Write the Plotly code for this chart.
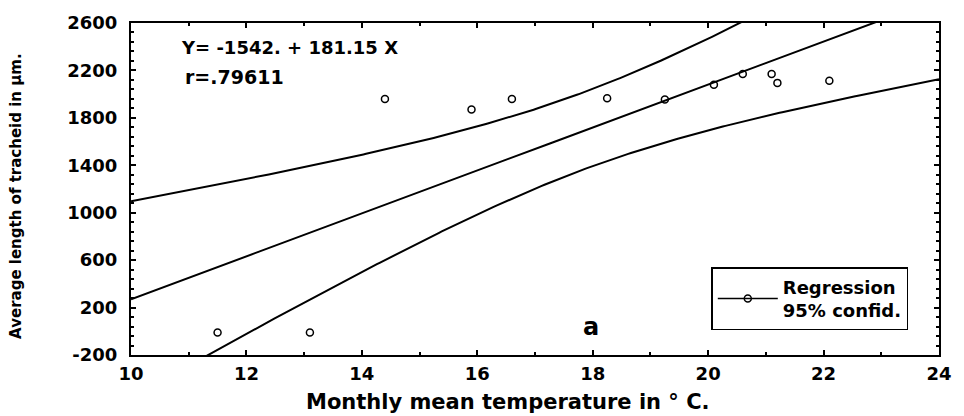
import numpy as np
import plotly.graph_objects as go

# Data
temp = [11.5, 13.1, 14.4, 15.9, 16.6, 18.25, 19.25, 20.1, 20.6, 21.1, 21.2, 22.1]
length = [-10, -10, 1960, 1870, 1960, 1965, 1955, 2080, 2170, 2170, 2095, 2112]
intercept = -1542.0
slope = 181.15
t_crit = 2.228  # t(0.975, n-2=10)

x_ticks = [10, 12, 14, 16, 18, 20, 22, 24]
y_ticks = [-200, 200, 600, 1000, 1400, 1800, 2200, 2600]

# Regression line and 95% confidence band derived from the data
xa = np.array(temp)
ya = np.array(length)
n = len(xa)
xbar = xa.mean()
sxx = ((xa - xbar) ** 2).sum()
resid = ya - (intercept + slope * xa)
s = np.sqrt((resid ** 2).sum() / (n - 2))
xg = np.linspace(10, 24, 300)
yfit = intercept + slope * xg
half = t_crit * s * np.sqrt(1.0 / n + (xg - xbar) ** 2 / sxx)

FONT = "DejaVu Sans"
fig = go.Figure()
fig.add_trace(go.Scatter(x=xg, y=yfit, mode="lines", line=dict(color="black", width=2),
                         showlegend=False))
fig.add_trace(go.Scatter(x=xg, y=yfit + half, mode="lines", line=dict(color="black", width=2),
                         showlegend=False))
fig.add_trace(go.Scatter(x=xg, y=yfit - half, mode="lines", line=dict(color="black", width=2),
                         showlegend=False))
fig.add_trace(go.Scatter(x=temp, y=length, mode="markers",
                         marker=dict(symbol="circle-open", size=7, color="black", line=dict(width=1.5)),
                         showlegend=False))
# legend entry
fig.add_trace(go.Scatter(x=[None], y=[None], mode="lines+markers",
                         line=dict(color="black", width=1.5),
                         marker=dict(symbol="circle-open", size=7, color="black", line=dict(width=1.5)),
                         name="<b>Regression<br>95% confid.</b>", showlegend=True))

axis_common = dict(showgrid=False, zeroline=False, showline=True, linecolor="black", linewidth=2,
                   mirror="allticks", ticks="inside", ticklen=5, tickwidth=1.5, tickcolor="black",
                   tickfont=dict(family=FONT, size=18, color="black", weight="bold"))

fig.update_xaxes(range=[10, 24], tickvals=x_ticks, ticktext=[str(v) for v in x_ticks],
                 minor=dict(dtick=1, tick0=10, ticks="inside", ticklen=3, tickcolor="black"),
                 ticklabelstandoff=1, **axis_common)
fig.update_yaxes(range=[-200, 2600], tickvals=y_ticks, ticktext=[str(v) for v in y_ticks],
                 minor=dict(dtick=80, tick0=-200, ticks="inside", ticklen=3, tickcolor="black"),
                 ticklabelstandoff=8, **axis_common)

fig.update_layout(
    width=964, height=416,
    margin=dict(l=131, r=21, t=20, b=61),
    plot_bgcolor="white", paper_bgcolor="white",
    legend=dict(x=0.962, y=0.075, xanchor="right", yanchor="bottom",
                bordercolor="black", borderwidth=1.5, bgcolor="white",
                font=dict(family=FONT, size=18, color="black"), itemwidth=60),
    annotations=[
        dict(text="<b>Y= -1542. + 181.15 X</b>", xref="paper", yref="paper", x=0.060, y=0.925,
             xanchor="left", yanchor="middle", showarrow=False,
             font=dict(family=FONT, size=18, color="black")),
        dict(text="<b>r=.79611</b>", xref="paper", yref="paper", x=0.064, y=0.836,
             xanchor="left", yanchor="middle", showarrow=False,
             font=dict(family=FONT, size=19, color="black")),
        dict(text="<b>a</b>", xref="paper", yref="paper", x=0.569, y=0.084,
             xanchor="center", yanchor="middle", showarrow=False,
             font=dict(family=FONT, size=24, color="black")),
        dict(text="<b>Monthly mean temperature in ° C.</b>", xref="paper", yref="paper",
             x=0.466, y=-0.143, xanchor="center", yanchor="middle", showarrow=False,
             font=dict(family=FONT, size=21, color="black")),
        dict(text="<b>Average length of tracheid in µm.</b>", xref="paper", yref="paper",
             x=-0.1416, y=0.478, xanchor="center", yanchor="middle", showarrow=False,
             textangle=-90, font=dict(family=FONT, size=15, color="black")),
    ],
)

fig.write_html("out.html")
